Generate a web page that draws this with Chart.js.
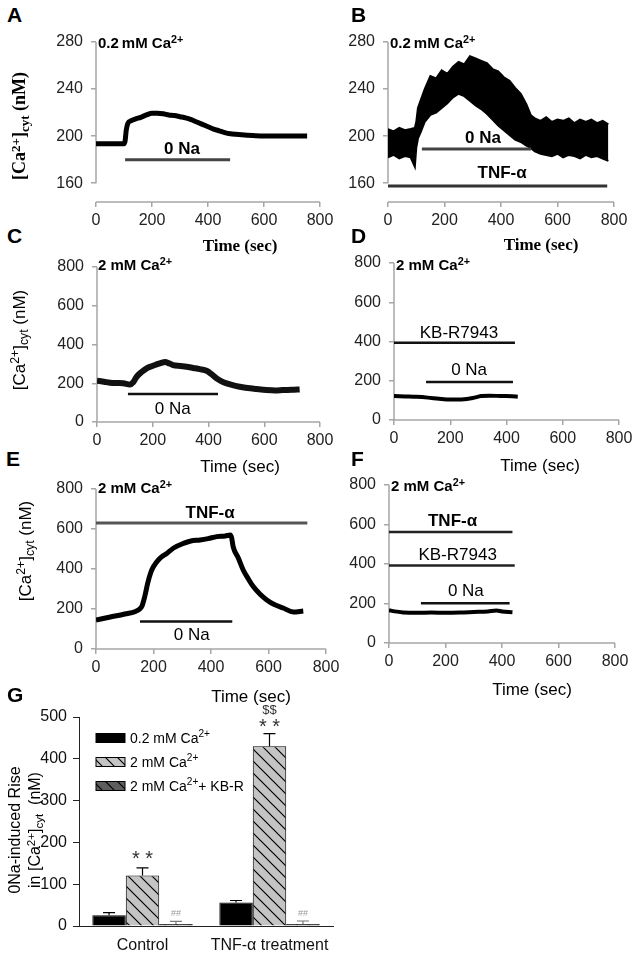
<!DOCTYPE html>
<html>
<head>
<meta charset="utf-8">
<script src="https://cdn.jsdelivr.net/npm/chart.js@4.4.1/dist/chart.umd.min.js"></script>
<style>
  body { margin: 0; background: #fff; }
  #page { position: relative; width: 633px; height: 953px; overflow: hidden; background: #fff;
          font-family: "Liberation Sans", Arial, sans-serif; color: #000; }
  #page canvas { position: absolute; }
  .t { position: absolute; white-space: nowrap; line-height: 1; }
  .b { font-weight: bold; }
  .serif { font-family: "Liberation Serif", "Times New Roman", serif; }
  .t sup { font-size: 72%; vertical-align: 0.42em; line-height: 0; }
  .t sub { font-size: 72%; vertical-align: -0.28em; line-height: 0; }
  .rot { transform: translate(-50%, -50%) rotate(-90deg); }
  .cx { transform: translateX(-50%); }
</style>
</head>
<body>
<div id="page">
  <canvas id="chartA"></canvas>
  <canvas id="chartB"></canvas>
  <canvas id="chartC"></canvas>
  <canvas id="chartD"></canvas>
  <canvas id="chartE"></canvas>
  <canvas id="chartF"></canvas>
  <canvas id="chartG"></canvas>

  <!-- letras dos painéis -->
  <div class="t b" style="left:7px;top:4px;font-size:21px">A</div>
  <div class="t b" style="left:351px;top:4px;font-size:21px">B</div>
  <div class="t b" style="left:7px;top:225px;font-size:21px">C</div>
  <div class="t b" style="left:351px;top:225px;font-size:21px">D</div>
  <div class="t b" style="left:6px;top:448px;font-size:21px">E</div>
  <div class="t b" style="left:351px;top:448px;font-size:21px">F</div>
  <div class="t b" style="left:7px;top:684px;font-size:21px">G</div>

  <!-- condições -->
  <div class="t b" style="left:98px;top:35px;font-size:15px">0.2&thinsp;mM Ca<sup>2+</sup></div>
  <div class="t b" style="left:390px;top:35px;font-size:15px">0.2&thinsp;mM Ca<sup>2+</sup></div>
  <div class="t b" style="left:98px;top:257px;font-size:15px">2 mM Ca<sup>2+</sup></div>
  <div class="t b" style="left:396px;top:257px;font-size:15px">2 mM Ca<sup>2+</sup></div>
  <div class="t b" style="left:98px;top:480px;font-size:15px">2 mM Ca<sup>2+</sup></div>
  <div class="t b" style="left:391px;top:478px;font-size:15px">2 mM Ca<sup>2+</sup></div>

  <!-- títulos dos eixos -->
  <div class="t b serif cx" style="left:240px;top:237px;font-size:17px">Time (sec)</div>
  <div class="t b serif cx" style="left:541px;top:236px;font-size:17px">Time (sec)</div>
  <div class="t cx" style="left:240px;top:458px;font-size:17px">Time (sec)</div>
  <div class="t cx" style="left:540px;top:457px;font-size:17px">Time (sec)</div>
  <div class="t cx" style="left:251px;top:688px;font-size:17px">Time (sec)</div>
  <div class="t cx" style="left:532px;top:681px;font-size:17px">Time (sec)</div>

  <div class="t b serif rot" style="left:19px;top:126px;font-size:18px">[Ca<sup>2+</sup>]<sub>cyt</sub> (nM)</div>
  <div class="t rot" style="left:19px;top:340px;font-size:17px">[Ca<sup>2+</sup>]<sub>cyt</sub> (nM)</div>
  <div class="t rot" style="left:25px;top:551px;font-size:17px">[Ca<sup>2+</sup>]<sub>cyt</sub> (nM)</div>
  <div class="t rot" style="left:15px;top:830px;font-size:16px">0Na-induced Rise</div>
  <div class="t rot" style="left:35px;top:830px;font-size:16px">in [Ca<sup>2+</sup>]<sub>cyt</sub>&nbsp;&nbsp;(nM)</div>
</div>

<script>
// ---- dados ----

// A: 0.2 mM Ca2+, controle
const timeA = [0, 50, 100, 104, 108, 114, 125, 140, 160, 180, 200, 220, 240, 260, 280, 300, 320, 340, 360, 380, 400, 420, 440, 460, 480, 500, 530, 560, 600, 650, 700, 754];
const caA = [193.5, 193.5, 193.5, 196, 205, 211, 213, 214.5, 216, 218, 219.5, 219.5, 219, 218, 217.5, 216.5, 215.5, 214, 212, 210, 208, 206, 204.5, 203, 202, 201.5, 201, 200.5, 200, 200, 200, 200];
const naSpanA = [104, 479];
const naLevelA = 180;

// B: 0.2 mM Ca2+, TNF-α (traço ruidoso: limites superior e inferior da faixa)
const timeB = [0, 20, 40, 60, 80, 95, 100, 106, 115, 130, 150, 170, 190, 210, 230, 250, 270, 290, 310, 330, 350, 370, 390, 410, 430, 450, 470, 490, 505, 520, 540, 560, 580, 600, 620, 640, 660, 680, 700, 720, 740, 760, 780];
const caUpperB = [206, 204, 207, 205, 206, 207, 212, 224, 230, 240, 251, 249, 256, 253, 259, 263, 261, 268, 266, 264, 262, 257, 255, 250, 247, 241, 236, 227, 218, 215, 213, 216, 212, 214, 213, 215, 211, 214, 212, 214, 211, 213, 210];
const caLowerB = [182, 184, 181, 183, 182, 174, 190, 198, 203, 212, 218, 220, 224, 228, 233, 236, 234, 230, 226, 223, 219, 214, 209, 205, 201, 197, 195, 192, 190, 187, 185, 184, 183, 185, 182, 184, 183, 181, 184, 182, 183, 181, 179];
const naSpanB = [120, 506];
const naLevelB = 189;
const tnfSpanB = [0, 776];
const tnfLevelB = 157.5;

// C: 2 mM Ca2+, controle
const timeC = [0, 25, 47, 70, 94, 118, 130, 142, 160, 178, 196, 214, 230, 244, 260, 273, 300, 321, 345, 369, 393, 410, 429, 447, 465, 490, 512, 540, 572, 608, 640, 667, 700, 727];
const caC = [213, 208, 203, 201, 200, 194, 205, 233, 258, 277, 288, 297, 305, 310, 302, 294, 289, 285, 279, 273, 265, 248, 225, 210, 199, 189, 182, 175, 170, 165, 163, 165, 166, 168];
const naSpanC = [111, 434];
const naLevelC = 144;

// D: 2 mM Ca2+ + KB-R7943
const timeD = [0, 40, 80, 120, 160, 200, 240, 280, 310, 340, 380, 420, 440];
const caD = [122, 120, 118, 114, 108, 104, 105, 112, 122, 124, 122, 121, 119];
const kbSpanD = [0, 430];
const kbLevelD = 393;
const naSpanD = [114, 423];
const naLevelD = 194;

// E: 2 mM Ca2+, TNF-α
const timeE = [0, 50, 100, 150, 160, 170, 180, 190, 200, 220, 246, 270, 304, 330, 362, 390, 420, 450, 467, 472, 477, 495, 512, 530, 547, 570, 594, 620, 651, 686, 721];
const caE = [145, 160, 175, 198, 215, 265, 330, 380, 412, 450, 478, 505, 528, 540, 545, 552, 562, 565, 570, 555, 512, 455, 395, 350, 312, 275, 245, 222, 205, 185, 190];
const tnfSpanE = [0, 735];
const tnfLevelE = 630;
const naSpanE = [153, 474];
const naLevelE = 137;

// F: 2 mM Ca2+, TNF-α + KB-R7943
const timeF = [0, 20, 50, 100, 150, 200, 250, 300, 350, 380, 400, 437];
const caF = [166, 160, 155, 153, 154, 153, 154, 157, 160, 165, 160, 156];
const tnfSpanF = [0, 437];
const tnfLevelF = 562;
const kbSpanF = [0, 445];
const kbLevelF = 393;
const naSpanF = [113, 427];
const naLevelF = 201;

// eixos
const timeTicks = [0, 200, 400, 600, 800];
const lowCaTicks = [160, 200, 240, 280];
const highCaTicks = [0, 200, 400, 600, 800];

// G: aumento induzido por 0Na
const groupLabels = ['Control', 'TNF-α treatment'];
const riseCa02 = [26, 56];
const errCa02 = [6, 5];
const riseCa2 = [121, 430];
const errCa2 = [18, 30];
const riseKB = [5, 5];
const errKB = [6, 7];
const riseTicks = [0, 100, 200, 300, 400, 500];

// ---- desenho ----
const FONT = '"Liberation Sans", Arial, sans-serif';
const AXIS = '#a6a6a6';

const pts = (xs, ys) => xs.map((x, i) => ({x: x, y: ys[i]}));
const seg = (span, level) => [{x: span[0], y: level}, {x: span[1], y: level}];

function trace(xs, ys, width, color) {
    return {data: pts(xs, ys), borderColor: color || '#000', borderWidth: width,
            cubicInterpolationMode: 'monotone', fill: false};
}
function bar(span, level, width, color) {
    return {data: seg(span, level), borderColor: color, borderWidth: width, tension: 0, fill: false, borderCapStyle: 'butt'};
}

// linhas dos eixos (o eixo y dos painéis A/B termina no último tick)
const axisLines = {
    id: 'axisLines',
    beforeDatasetsDraw(chart, args, o) {
        const {ctx, scales: {x, y}} = chart;
        ctx.save();
        ctx.strokeStyle = AXIS;
        ctx.lineWidth = 1.5;
        ctx.beginPath();
        ctx.moveTo(x.left, y.getPixelForValue(o.yTop));
        ctx.lineTo(x.left, y.getPixelForValue(o.yBottom));
        ctx.moveTo(x.getPixelForValue(0), y.bottom);
        ctx.lineTo(x.getPixelForValue(800), y.bottom);
        ctx.stroke();
        ctx.restore();
    }
};

// rótulos das barras (0 Na, TNF-α, KB-R7943)
const notesPlugin = {
    id: 'notes',
    afterDatasetsDraw(chart, args, o) {
        const {ctx, scales: {x, y}} = chart;
        ctx.save();
        ctx.fillStyle = '#000';
        ctx.textAlign = 'center';
        ctx.textBaseline = 'middle';
        (o.items || []).forEach(n => {
            ctx.font = (n.bold ? 'bold ' : '') + '17px ' + FONT;
            ctx.fillText(n.text, x.getPixelForValue(n.x), y.getPixelForValue(n.y));
        });
        ctx.restore();
    }
};

function tracePanel(id, area, yMin, yMax, yTicks, datasets, notes) {
    const cv = document.getElementById(id);
    const w = area.r - area.l + 100;
    const h = area.b - area.t + 60;
    cv.width = w; cv.height = h;
    cv.style.width = w + 'px'; cv.style.height = h + 'px';
    cv.style.left = (area.l - 70) + 'px';
    cv.style.top = (area.t - 20) + 'px';

    new Chart(cv, {
        type: 'line',
        data: {datasets: datasets},
        options: {
            responsive: false,
            animation: false,
            layout: {padding: {left: 10, top: 20, right: 30, bottom: 5}},
            elements: {point: {radius: 0}},
            plugins: {
                legend: {display: false},
                tooltip: {enabled: false},
                axisLines: {yTop: yTicks[yTicks.length - 1], yBottom: yTicks[0]},
                notes: {items: notes}
            },
            scales: {
                x: {
                    type: 'linear', min: 0, max: 800,
                    afterFit: s => { s.height = 35; },
                    afterBuildTicks: s => { s.ticks = timeTicks.map(v => ({value: v})); },
                    ticks: {font: {family: FONT, size: 16}, color: '#222', padding: 4, maxRotation: 0},
                    grid: {drawOnChartArea: false, color: AXIS, lineWidth: 1.5, tickLength: 5},
                    border: {display: false}
                },
                y: {
                    min: yMin, max: yMax,
                    afterFit: s => { s.width = 60; },
                    afterBuildTicks: s => { s.ticks = yTicks.map(v => ({value: v})); },
                    ticks: {font: {family: FONT, size: 16}, color: '#222', padding: 8},
                    grid: {drawOnChartArea: false, color: AXIS, lineWidth: 1.5, tickLength: 5},
                    border: {display: false}
                }
            }
        },
        plugins: [axisLines, notesPlugin]
    });
}

// Gráfico A
tracePanel('chartA', {l: 96, r: 320, t: 42, b: 202}, 144, 280, lowCaTicks, [
    bar(naSpanA, naLevelA, 3, '#444'),
    trace(timeA, caA, 5)
], [{text: '0 Na', x: 307, y: 189, bold: true}]);

// Gráfico B
tracePanel('chartB', {l: 388, r: 614, t: 42, b: 202}, 144, 280, lowCaTicks, [
    bar(naSpanB, naLevelB, 3, '#444'),
    bar(tnfSpanB, tnfLevelB, 3, '#333'),
    {data: pts(timeB, caUpperB), borderColor: '#000', borderWidth: 2, tension: 0, fill: false},
    {data: pts(timeB, caLowerB), borderColor: '#000', borderWidth: 2, tension: 0, fill: '-1', backgroundColor: '#000'}
], [{text: '0 Na', x: 336, y: 198, bold: true}, {text: 'TNF-α', x: 404, y: 168, bold: true}]);

// Gráfico C
tracePanel('chartC', {l: 97, r: 320, t: 267, b: 422}, 0, 800, highCaTicks, [
    bar(naSpanC, naLevelC, 2.5, '#111'),
    trace(timeC, caC, 6, '#111')
], [{text: '0 Na', x: 272, y: 67}]);

// Gráfico D
tracePanel('chartD', {l: 394, r: 619, t: 263, b: 420}, 0, 800, highCaTicks, [
    bar(kbSpanD, kbLevelD, 2.5, '#111'),
    bar(naSpanD, naLevelD, 2.5, '#111'),
    trace(timeD, caD, 4)
], [{text: 'KB-R7943', x: 231, y: 444}, {text: '0 Na', x: 267, y: 255}]);

// Gráfico E
tracePanel('chartE', {l: 96, r: 326, t: 489, b: 649}, 0, 800, highCaTicks, [
    bar(tnfSpanE, tnfLevelE, 3, '#555'),
    bar(naSpanE, naLevelE, 2.5, '#111'),
    trace(timeE, caE, 5)
], [{text: 'TNF-α', x: 397, y: 680, bold: true}, {text: '0 Na', x: 333, y: 70}]);

// Gráfico F
tracePanel('chartF', {l: 389, r: 615, t: 485, b: 643}, 0, 800, highCaTicks, [
    bar(tnfSpanF, tnfLevelF, 2.5, '#222'),
    bar(kbSpanF, kbLevelF, 2.5, '#222'),
    bar(naSpanF, naLevelF, 2.5, '#111'),
    trace(timeF, caF, 4)
], [{text: 'TNF-α', x: 225, y: 614, bold: true}, {text: 'KB-R7943', x: 243, y: 446}, {text: '0 Na', x: 272, y: 260}]);

// ---- Gráfico G (barras) ----
function hatch(bg) {
    const c = document.createElement('canvas');
    c.width = 12; c.height = 12;
    const x = c.getContext('2d');
    x.fillStyle = bg;
    x.fillRect(0, 0, 12, 12);
    x.strokeStyle = '#000';
    x.lineWidth = 1.2;
    x.beginPath();
    x.moveTo(-1, -1); x.lineTo(13, 13);
    x.moveTo(-1, 11); x.lineTo(1, 13);
    x.moveTo(11, -1); x.lineTo(13, 1);
    x.stroke();
    return x.createPattern(c, 'repeat');
}

function richText(ctx, parts, x, y, size) {
    parts.forEach(p => {
        const s = p.sup ? size * 0.72 : size;
        ctx.font = s + 'px ' + FONT;
        ctx.fillText(p.t, x, p.sup ? y - size * 0.4 : y);
        x += ctx.measureText(p.t).width;
    });
}

const legendParts = [
    [{t: '0.2 mM Ca'}, {t: '2+', sup: true}],
    [{t: '2 mM Ca'}, {t: '2+', sup: true}],
    [{t: '2 mM Ca'}, {t: '2+', sup: true}, {t: '+ KB-R'}]
];

const barExtras = {
    id: 'barExtras',
    afterDatasetsDraw(chart) {
        const {ctx, chartArea, scales: {y}} = chart;
        ctx.save();
        // barras de erro (só para cima)
        chart.data.datasets.forEach((ds, di) => {
            chart.getDatasetMeta(di).data.forEach((el, i) => {
                const top = y.getPixelForValue(ds.data[i] + ds.errors[i]);
                ctx.strokeStyle = ds.errColor;
                ctx.lineWidth = 1.2;
                ctx.beginPath();
                ctx.moveTo(el.x, el.y);
                ctx.lineTo(el.x, top);
                ctx.moveTo(el.x - 6, top);
                ctx.lineTo(el.x + 6, top);
                ctx.stroke();
            });
        });
        // marcas de significância
        ctx.textAlign = 'center';
        ctx.textBaseline = 'alphabetic';
        const marks = [
            {ds: 1, i: 0, text: '* *', dy: 3, size: 20, color: '#333'},
            {ds: 1, i: 1, text: '* *', dy: 1, size: 20, color: '#333'},
            {ds: 1, i: 1, text: '$$', dy: 20, size: 13, color: '#333'},
            {ds: 2, i: 0, text: '##', dy: 5, size: 9, color: '#999'},
            {ds: 2, i: 1, text: '##', dy: 5, size: 9, color: '#999'}
        ];
        marks.forEach(m => {
            const ds = chart.data.datasets[m.ds];
            const el = chart.getDatasetMeta(m.ds).data[m.i];
            const top = y.getPixelForValue(ds.data[m.i] + ds.errors[m.i]);
            ctx.font = m.size + 'px ' + FONT;
            ctx.fillStyle = m.color;
            ctx.fillText(m.text, el.x, top - m.dy);
        });
        // legenda
        ctx.textAlign = 'left';
        chart.data.datasets.forEach((ds, di) => {
            const cy = chartArea.top + 21 + di * 24;
            ctx.fillStyle = ds.backgroundColor;
            ctx.fillRect(chartArea.left + 17, cy - 4.5, 29, 9);
            ctx.strokeStyle = '#000';
            ctx.lineWidth = 1;
            ctx.strokeRect(chartArea.left + 17, cy - 4.5, 29, 9);
            ctx.fillStyle = '#000';
            richText(ctx, legendParts[di], chartArea.left + 51, cy + 5, 14);
        });
        ctx.restore();
    }
};

(function () {
    const cv = document.getElementById('chartG');
    cv.width = 354; cv.height = 256;
    cv.style.width = '354px'; cv.style.height = '256px';
    cv.style.left = '9px'; cv.style.top = '697px';

    new Chart(cv, {
        type: 'bar',
        data: {
            labels: groupLabels,
            datasets: [
                {label: '0.2 mM Ca2+', data: riseCa02, errors: errCa02, errColor: '#000',
                 backgroundColor: '#000', borderColor: '#000', borderWidth: 1},
                {label: '2 mM Ca2+', data: riseCa2, errors: errCa2, errColor: '#000',
                 backgroundColor: hatch('#c4c4c4'), borderColor: '#000', borderWidth: 1},
                {label: '2 mM Ca2+ + KB-R', data: riseKB, errors: errKB, errColor: '#777',
                 backgroundColor: hatch('#5e5e5e'), borderColor: '#000', borderWidth: 1}
            ]
        },
        options: {
            responsive: false,
            animation: false,
            layout: {padding: {left: 10, top: 20, right: 30, bottom: 2}},
            datasets: {bar: {categoryPercentage: 0.79, barPercentage: 1}},
            plugins: {legend: {display: false}, tooltip: {enabled: false}},
            scales: {
                x: {
                    afterFit: s => { s.height = 25; },
                    ticks: {font: {family: FONT, size: 16}, color: '#111', padding: 10},
                    grid: {drawOnChartArea: false, drawTicks: false, color: '#222'},
                    border: {display: true, color: '#222', width: 1}
                },
                y: {
                    min: 0, max: 500,
                    afterFit: s => { s.width = 60; },
                    afterBuildTicks: s => { s.ticks = riseTicks.map(v => ({value: v})); },
                    ticks: {font: {family: FONT, size: 16}, color: '#111', padding: 6},
                    grid: {drawOnChartArea: false, color: '#222', tickLength: 6},
                    border: {display: true, color: '#222', width: 1}
                }
            }
        },
        plugins: [barExtras]
    });
})();
</script>
</body>
</html>
